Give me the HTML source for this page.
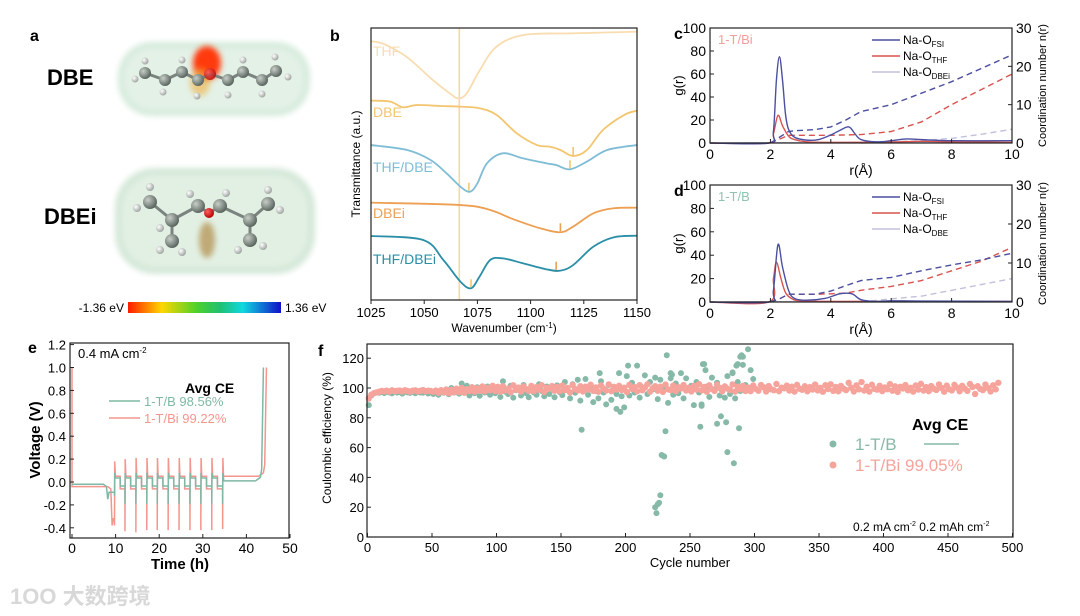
<!DOCTYPE html>
<html><head><meta charset="utf-8">
<style>
html,body{margin:0;padding:0;background:#fff;}
svg{display:block;font-family:"Liberation Sans","Noto Sans CJK SC",sans-serif;}
</style></head>
<body>
<svg id="fig" width="1080" height="616" viewBox="0 0 1080 616" xmlns="http://www.w3.org/2000/svg">
<defs>
<filter id="blur3" x="-30%" y="-30%" width="160%" height="160%"><feGaussianBlur stdDeviation="3"/></filter>
<linearGradient id="cbar" x1="0" x2="1" y1="0" y2="0">
<stop offset="0" stop-color="#ff1a00"/><stop offset="0.22" stop-color="#ffd700"/><stop offset="0.45" stop-color="#4cd12a"/><stop offset="0.6" stop-color="#20c070"/><stop offset="0.75" stop-color="#10d8e0"/><stop offset="1" stop-color="#1010c8"/>
</linearGradient>
<radialGradient id="atom" cx="0.35" cy="0.35" r="0.7"><stop offset="0" stop-color="#c8cec8"/><stop offset="1" stop-color="#55605a"/></radialGradient>
<radialGradient id="hatom" cx="0.35" cy="0.35" r="0.7"><stop offset="0" stop-color="#ffffff"/><stop offset="1" stop-color="#9aa09c"/></radialGradient>
<radialGradient id="oatom" cx="0.35" cy="0.35" r="0.7"><stop offset="0" stop-color="#ff6060"/><stop offset="1" stop-color="#b00000"/></radialGradient>
</defs>

<!-- Panel a -->
<g>
<text x="30" y="41" font-size="16" font-weight="bold">a</text>
<text x="47" y="85" font-size="22" font-weight="bold">DBE</text>
<text x="44" y="224" font-size="22" font-weight="bold">DBEi</text>
<g>
<rect x="118" y="42" width="192" height="74" rx="34" fill="#d6ebdc" filter="url(#blur3)"/>
<rect x="124" y="48" width="180" height="62" rx="28" fill="#e3f1e6" filter="url(#blur3)"/>
<ellipse cx="207" cy="63" rx="14" ry="17" fill="#ff3a10" filter="url(#blur3)"/>
<ellipse cx="200" cy="82" rx="10" ry="14" fill="#f0b040" opacity="0.6" filter="url(#blur3)"/>
<g stroke="#7a837e" stroke-width="3">
<line x1="145" y1="73" x2="165" y2="80"/><line x1="165" y1="80" x2="182" y2="72"/><line x1="182" y1="72" x2="198" y2="80"/><line x1="198" y1="80" x2="210" y2="74"/><line x1="210" y1="74" x2="228" y2="80"/><line x1="228" y1="80" x2="243" y2="72"/><line x1="243" y1="72" x2="262" y2="80"/><line x1="262" y1="80" x2="276" y2="71"/>
</g>
<circle cx="145" cy="73" r="6" fill="url(#atom)"/><circle cx="165" cy="80" r="6" fill="url(#atom)"/><circle cx="182" cy="72" r="6" fill="url(#atom)"/><circle cx="198" cy="80" r="6" fill="url(#atom)"/><circle cx="210" cy="74" r="6" fill="url(#oatom)" opacity="0.8"/><circle cx="228" cy="80" r="6" fill="url(#atom)"/><circle cx="243" cy="72" r="6" fill="url(#atom)"/><circle cx="262" cy="80" r="6" fill="url(#atom)"/><circle cx="276" cy="71" r="6" fill="url(#atom)"/>
<circle cx="135" cy="79" r="3.5" fill="url(#hatom)"/><circle cx="145" cy="61" r="3.5" fill="url(#hatom)"/><circle cx="163" cy="92" r="3.5" fill="url(#hatom)"/><circle cx="182" cy="60" r="3.5" fill="url(#hatom)"/><circle cx="197" cy="96" r="3.5" fill="url(#hatom)"/><circle cx="228" cy="95" r="3.5" fill="url(#hatom)"/><circle cx="243" cy="60" r="3.5" fill="url(#hatom)"/><circle cx="262" cy="94" r="3.5" fill="url(#hatom)"/><circle cx="275" cy="57" r="3.5" fill="url(#hatom)"/><circle cx="288" cy="77" r="3.5" fill="url(#hatom)"/>
</g>
<g>
<rect x="115" y="168" width="200" height="106" rx="40" fill="#d4e8d8" filter="url(#blur3)"/>
<rect x="122" y="175" width="186" height="92" rx="34" fill="#e2f0e4" filter="url(#blur3)"/>
<ellipse cx="207" cy="240" rx="8" ry="18" fill="#a87a2a" opacity="0.6" filter="url(#blur3)"/>
<g stroke="#7a837e" stroke-width="3">
<line x1="150" y1="202" x2="172" y2="220"/><line x1="172" y1="220" x2="198" y2="206"/><line x1="198" y1="206" x2="209" y2="213"/><line x1="209" y1="213" x2="220" y2="206"/><line x1="220" y1="206" x2="250" y2="220"/><line x1="250" y1="220" x2="268" y2="204"/><line x1="172" y1="220" x2="172" y2="240"/><line x1="250" y1="220" x2="250" y2="240"/>
</g>
<circle cx="150" cy="202" r="7" fill="url(#atom)"/><circle cx="172" cy="220" r="7" fill="url(#atom)"/><circle cx="172" cy="241" r="7" fill="url(#atom)"/><circle cx="198" cy="206" r="7" fill="url(#atom)"/><circle cx="209" cy="213" r="5" fill="url(#oatom)"/><circle cx="220" cy="206" r="7" fill="url(#atom)"/><circle cx="250" cy="220" r="7" fill="url(#atom)"/><circle cx="250" cy="240" r="7" fill="url(#atom)"/><circle cx="268" cy="204" r="7" fill="url(#atom)"/>
<circle cx="137" cy="208" r="4" fill="url(#hatom)"/><circle cx="150" cy="187" r="4" fill="url(#hatom)"/><circle cx="160" cy="228" r="4" fill="url(#hatom)"/><circle cx="160" cy="250" r="4" fill="url(#hatom)"/><circle cx="182" cy="252" r="4" fill="url(#hatom)"/><circle cx="190" cy="194" r="4" fill="url(#hatom)"/><circle cx="226" cy="193" r="4" fill="url(#hatom)"/><circle cx="238" cy="250" r="4" fill="url(#hatom)"/><circle cx="263" cy="246" r="4" fill="url(#hatom)"/><circle cx="268" cy="190" r="4" fill="url(#hatom)"/><circle cx="280" cy="210" r="4" fill="url(#hatom)"/>
</g>
<text x="124" y="312" font-size="12" text-anchor="end">-1.36 eV</text>
<rect x="128" y="302" width="153" height="11" fill="url(#cbar)"/>
<text x="285" y="312" font-size="12">1.36 eV</text>
</g>

<g id="pb"></g>
<g id="pc"></g>
<g id="pd"></g>
<g id="pe"></g>
<g id="pf"></g>

<text x="10" y="604" font-size="22" fill="#d8d8d8" font-weight="bold">1OO 大数跨境</text>
</svg>

<script>
// ---------- Panel b data ----------
const bTicks = [1025, 1050, 1075, 1100, 1125, 1150];
const thfW = [1025,1031,1042,1054,1062,1066,1070,1076,1084,1097,1120,1150];
const thfV = [97,96,91,82.5,77.5,75.6,77.5,86,95,99.4,100,100.6];
const dbeW = [1025,1034,1040,1046.5,1057.5,1067,1076,1084,1093.5,1103,1109,1114,1120,1126.5,1134,1144,1150];
const dbeV = [74.75,74.4,72.25,73.1,72.75,72.5,71.9,69.4,62.5,58.1,57.5,56.25,54,56.25,63.75,69.4,71];
const thfDbeW = [1025,1042,1053,1060.5,1067,1071.5,1075,1079.5,1087,1096.5,1107.5,1112,1118.5,1126.5,1136,1150];
const thfDbeV = [58.1,56.25,52.5,47.5,42.5,40.6,43.75,51.25,55,53.1,51.25,50.6,49,51.9,56.25,58.1];
const dbeiW = [1025,1067,1081,1092,1104.5,1114,1120,1129.5,1139,1150];
const dbeiV = [36.5,35.6,33.75,30.25,26.9,25.4,27.5,32.5,34.4,34.6];
const thfDbeiW = [1025,1049.5,1059,1067,1072,1076,1081,1087,1096.5,1107.5,1114,1120,1129.5,1139,1150];
const thfDbeiV = [24,22.5,15,6.9,4.4,8.75,15,15.6,13.75,11.5,11,13.1,20,23.5,24.1];
const refLineW = 1066.5;
const peakMarkW = [1120, 1118.5, 1071, 1114, 1112, 1072];
const peakMarkV = [54, 49, 40.6, 25.4, 11, 4.4];

// ---------- Panel c/d data ----------
const rTicks = [0,2,4,6,8,10];
const cFsiR = [0,1.95,2.1,2.2,2.3,2.4,2.5,2.6,2.8,3.2,3.6,4.0,4.3,4.6,4.8,5.0,5.5,6.0,6.5,7,8,10];
const cFsiG = [0,0,10,55,75,55,25,12,5,2.5,3,7,11,14,8,3,1,2,3.5,3,2,2];
const cThfR = [0,1.95,2.1,2.25,2.4,2.6,2.8,3.2,4,6,7,8,10];
const cThfG = [0,0,8,24,15,6,3,1,0.5,0.8,1.5,1,0.5];
const cDbeiR = [0,2,4,6,8,10];
const cDbeiG = [0,0.3,0.5,0.6,0.6,0.5];
const cnR1 = [2.0,2.3,2.6,2.8,3.5,4.0,4.5,5.0,6,7,8,9,10];
const cFsiN = [0,1.5,3,3.2,3.5,4.2,6,8.2,10,13,16,19.5,23];
const cThfN = [0,1,2,2,2,2,2.1,2.2,3,5.5,10,14,18];
const cnR2 = [5,6,7,8,9,10];
const cDbeiN = [0,0.3,0.6,1.2,2.3,3.6];

const dFsiR = [0,1.95,2.1,2.25,2.4,2.6,2.8,3.2,3.8,4.3,4.7,5.0,5.5,6,7,10];
const dFsiG = [0,0,10,49,30,10,3,1.5,3,7,7,2,0.5,1,0.8,0.5];
const dThfR = [0,1.95,2.1,2.2,2.35,2.5,2.7,3.0,4,10];
const dThfG = [0,0,20,34,20,8,3,1,0.5,0.5];
const dDbeR = [0,2,4,6,8,10];
const dDbeG = [0,0.3,0.5,0.6,0.5,0.5];
const dFsiN = [0,0.8,2,2,2,2.8,4.2,5.5,6.3,8,9.5,10.8,12.5];
const dThfN = [0,0.8,2,2,2,2.1,2.3,3,4,5.5,8,10.5,14];
const dDbeN = [0,0.8,1.5,3,4.5,6];

// ---------- Panel e data ----------
const eXTicks = [0,10,20,30,40,50];
const eYTicks = [-0.4,-0.2,0.0,0.2,0.4,0.6,0.8,1.0,1.2];
const cycleTimes = [9.8,12.2,14.7,17.2,19.6,22.1,24.6,27.1,29.6,32.1,34.6];
const bHighs = [0.08,0.08,0.08,0.08,0.08,0.08,0.08,0.08,0.08,0.08,0.08];
const bLows = [-0.12,-0.19,-0.19,-0.19,-0.19,-0.19,-0.19,-0.19,-0.19,-0.19,-0.19];
const biHighs = [0.18,0.2,0.21,0.21,0.21,0.21,0.21,0.21,0.21,0.21,0.21];
const biLows = [-0.38,-0.43,-0.44,-0.42,-0.42,-0.42,-0.42,-0.42,-0.42,-0.42,-0.41];

// ---------- Panel f data ----------
const fXTicks = [0,50,100,150,200,250,300,350,400,450,500];
const fYTicks = [0,20,40,60,80,100,120];
const biCE = [93,95.5,96.5,97,97.5,98,97.8,98.2,97.6,98.4,97.9,98.1,98.3,97.7,98.5,98,97.6,98.2,98.4,97.8,98.1,98.6,97.9,98.2,98,
97.5,98.3,96.8,98.5,97.2,99,96.5,98.8,97,99.5,97.3,100,96.8,99.2,98,100.5,97.5,99.8,98.2,101,97.8,100.2,98.5,101.5,98,
100.8,97.5,101.2,98.4,99.6,97.2,101.8,98.9,100.3,97.6,101,99.2,98.1,101.4,97.9,100.6,98.8,101.9,97.4,100.1,99.5,101.3,98.2,100.7,97.8,
101.6,98.6,100,97.1,102,99.3,98.4,101.2,97.7,100.9,99,102.2,98.1,100.4,97.5,101.7,99.6,98.3,102.4,97.9,100.8,99.1,101.5,98.7,100.2,
97.3,102.1,99.4,100.6,97.8,101.9,98.5,100.3,102.5,97.6,99.8,101.2,98.2,100.9,97.4,102.3,99.1,98.6,101.6,97.9,100.5,99.7,102,98.3,100.1,
97.7,101.4,99,102.6,98.4,100.7,97.5,101.8,99.3,98.1,102.2,100,97.8,101.1,99.6,98.7,102.4,97.6,100.8,99.2,101.5,98,100.3,97.9,101.7,
99.4,98.2,102,100.5,97.7,101.3,99.1,98.5,102.7,97.9,100.2,99.8,101.6,98.3,100.9,97.6,102.1,99.5,98.8,101.2,97.8,100.6,99,102.3,98.4,
100.1,97.5,101.9,99.3,102.5,98.1,100.7,97.8,101.4,99.6,98.6,103.5,100.2,97.7,101.8,99.1,104,98.3,100.9,97.6,102.2,99.4,98.9,101.5,97.9,
100.4,99.2,102.6,98.2,101.1,97.4,100.8,99.7,102,98.5,100.1,97.6,101.7,99,102.8,98.3,100.6,97.9,101.3,99.5,98.7,102.4,100,97.5,101.6,
99.2,98.4,102.1,100.3,97.8,101.5,99.6,98.1,102.7,100.7,96,101.2,99.4,98.6,102.3,100,97.7,101.8,99.1,103.5];
const bCE = [88.5,95,96.5,97,96.8,97.2,96.6,97.5,97,96.4,97.8,96.9,97.3,96.2,97.6,97.1,96.7,98,96.5,97.4,97,96.8,97.7,96.3,97.2,
96,97.5,95.5,98.5,96.8,97.2,95.8,100,97.5,99.5,96.2,103,98.5,101.5,95,98,96.5,100.5,94.8,99,97,101,95.5,98.5,96.5,
100,94,104.5,97.5,96,101.5,93.5,98.5,99.8,95,102,96.5,93.8,100.5,97,95.5,102.5,98,94.5,101,96,99.5,93.8,101.8,97.2,
95.2,104,98.5,93,102.5,96.8,105.5,91.5,99,106,95.5,101,90.5,98,93,104.5,97,89,102,92,100.5,96,110,94.5,87,
108,95,103.5,97,115,93.5,100.5,108.5,96,104,99,107,92.5,105.5,98,101,90,106.5,95.5,103,96.5,110,93,106.5,99.5,
101.5,88.5,104,97,89,116,101,94,107,99,103.5,95,100,93.5,108,96,110.5,93,104,98,115.5,102,126,112,106];
const bOutCycle = [166,223,224,225,226,227,228,229,230,231,232,235,236,258,259,260,262,271,274,278,279,283,284,286,287,288,289,290,291,193,196,202,180];
const bOutCE = [72,20,16,22,23,28,55,54.5,54,71,122,110,109,74,88,116,112,76,81,77,57,110,49.5,115,116,73,121,122,121,86,84,115,110];

// ---------- helpers ----------
const NS = 'http://www.w3.org/2000/svg';
function el(tag, parent, attrs) {
  const e = document.createElementNS(NS, tag);
  for (const k in attrs) e.setAttribute(k, attrs[k]);
  parent.appendChild(e);
  return e;
}
function smooth(pts) {
  let d = 'M' + pts[0][0].toFixed(2) + ',' + pts[0][1].toFixed(2);
  for (let i = 0; i < pts.length - 1; i++) {
    const p0 = pts[Math.max(0, i - 1)], p1 = pts[i], p2 = pts[i + 1], p3 = pts[Math.min(pts.length - 1, i + 2)];
    const c1 = [p1[0] + (p2[0] - p0[0]) / 6, p1[1] + (p2[1] - p0[1]) / 6];
    const c2 = [p2[0] - (p3[0] - p1[0]) / 6, p2[1] - (p3[1] - p1[1]) / 6];
    d += 'C' + c1[0].toFixed(2) + ',' + c1[1].toFixed(2) + ' ' + c2[0].toFixed(2) + ',' + c2[1].toFixed(2) + ' ' + p2[0].toFixed(2) + ',' + p2[1].toFixed(2);
  }
  return d;
}
function poly(pts) {
  return 'M' + pts.map(p => p[0].toFixed(2) + ',' + p[1].toFixed(2)).join('L');
}
function txt(parent, x, y, s, attrs) {
  const t = el('text', parent, Object.assign({x: x, y: y, 'font-size': 13}, attrs || {}));
  t.textContent = s;
  return t;
}

// ---------- Panel b ----------
(function () {
  const g = document.getElementById('pb');
  const xb = w => 371 + (w - 1025) / 125 * 266;
  const yb = v => 300 - v * 2.667;
  let t = txt(g, 330, 41, 'b', {'font-size': 16, 'font-weight': 'bold'});
  
  
  const ref = el('line', g, {x1: xb(refLineW), x2: xb(refLineW), y1: 28, y2: 300, stroke: '#f7d9a0', 'stroke-width': 1.6});
  
  
  const series = [
    [thfW, thfV, '#f9ddb0', 'thf-curve'],
    [dbeW, dbeV, '#f3c56f', 'dbe-curve'],
    [thfDbeW, thfDbeV, '#7fbdd6', 'thf-dbe-curve'],
    [dbeiW, dbeiV, '#ed9f52', 'dbei-curve'],
    [thfDbeiW, thfDbeiV, '#2a8ea7', 'thf-dbei-curve']
  ];
  series.forEach(s => {
    const p = el('path', g, {d: smooth(s[0].map((w, i) => [xb(w), yb(s[1][i])])), fill: 'none', stroke: s[2], 'stroke-width': 1.8});
    
    
  });
  const markCols = ['#f3c56f', '#f3c56f', '#f3c56f', '#ed9f52', '#ed9f52', '#f3c56f'];
  peakMarkW.forEach((w, i) => {
    const m = el('line', g, {x1: xb(w), x2: xb(w), y1: yb(peakMarkV[i]) - 1, y2: yb(peakMarkV[i]) - 9, stroke: markCols[i], 'stroke-width': 1.6});
    
    
  });
  const labels = [['THF', 56, '#f9ddb0'], ['DBE', 117, '#f3c56f'], ['THF/DBE', 172, '#7fbdd6'], ['DBEi', 218, '#ed9f52'], ['THF/DBEi', 264, '#2a8ea7']];
  labels.forEach(l => {
    const tt = txt(g, 373, l[1], l[0], {'font-size': 14, fill: l[2]});
    
    
  });
  const box = el('rect', g, {x: 371, y: 28, width: 266, height: 272, fill: 'none', stroke: '#222', 'stroke-width': 1.2});
  
  
  bTicks.forEach(w => {
    el('line', g, {x1: xb(w), x2: xb(w), y1: 300, y2: 304, stroke: '#222'});
    const tl = txt(g, xb(w), 317, String(w), {'text-anchor': 'middle'});
    
    
  });
  const xt = txt(g, 504, 332, 'Wavenumber (cm', {'text-anchor': 'middle', 'font-size': 12});
  const sup = el('tspan', xt, {'baseline-shift': 'super', 'font-size': 8});
  sup.textContent = '-1';
  const cl = el('tspan', xt, {}); cl.textContent = ')';
  
  
  const yt = txt(g, 0, 0, 'Transmittance (a.u.)', {'text-anchor': 'middle', 'font-size': 12, transform: 'translate(360,164) rotate(-90)'});
  
  
})();

// ---------- Panels c & d ----------
function rdfPanel(gid, top, bottom, letter, sample, sampleCol, data, legendNames) {
  const g = document.getElementById(gid);
  const xc = r => 710 + r * 30.2;
  const yL = v => bottom - v / 100 * (bottom - top);
  const yR = v => bottom - v / 30 * (bottom - top);
  const lt = txt(g, 674, top + 11, letter, {'font-size': 16, 'font-weight': 'bold'});
  
  
  data.forEach(s => {
    const pts = s.x.map((r, i) => [xc(r), s.right ? yR(s.y[i]) : yL(s.y[i])]);
    const p = el('path', g, {d: s.right ? poly(pts) : smooth(pts), fill: 'none', stroke: s.col, 'stroke-width': 1.4, 'stroke-dasharray': s.right ? '6,4' : 'none'});
    
    
  });
  const box = el('rect', g, {x: 710, y: top, width: 302, height: bottom - top, fill: 'none', stroke: '#222', 'stroke-width': 1.2});
  
  
  rTicks.forEach(r => {
    el('line', g, {x1: xc(r), x2: xc(r), y1: bottom, y2: bottom - 4, stroke: '#222'});
    const tl = txt(g, xc(r), bottom + 16, String(r), {'text-anchor': 'middle', 'font-size': 14});
    
    
  });
  [0, 20, 40, 60, 80, 100].forEach(v => {
    el('line', g, {x1: 710, x2: 714, y1: yL(v), y2: yL(v), stroke: '#222'});
    const tl = txt(g, 706, yL(v) + 5, String(v), {'text-anchor': 'end', 'font-size': 14});
    
    
  });
  [0, 10, 20, 30].forEach(v => {
    el('line', g, {x1: 1012, x2: 1008, y1: yR(v), y2: yR(v), stroke: '#222'});
    const tl = txt(g, 1016, yR(v) + 5, String(v), {'font-size': 14});
    
    
  });
  const xt = txt(g, 861, bottom + 32, 'r(Å)', {'text-anchor': 'middle', 'font-size': 14});
  
  
  const yt = txt(g, 0, 0, 'g(r)', {'text-anchor': 'middle', 'font-size': 13, transform: 'translate(683,' + ((top + bottom) / 2) + ') rotate(-90)'});
  
  
  const y2 = txt(g, 0, 0, 'Coordination number n(r)', {'text-anchor': 'middle', 'font-size': 11, transform: 'translate(1046,' + ((top + bottom) / 2) + ') rotate(-90)'});
  
  
  const st = txt(g, 718, top + 16, sample, {'font-size': 13, fill: sampleCol});
  
  
  const cols = ['#4b4fa0', '#d9534f', '#c2c1dc'];
  legendNames.forEach((n, i) => {
    const ly = top + 12 + i * 16;
    const ln = el('line', g, {x1: 872, x2: 900, y1: ly, y2: ly, stroke: cols[i], 'stroke-width': 1.5});
    
    
    const tt = txt(g, 903, ly + 4, 'Na-O', {'font-size': 12});
    const sb = el('tspan', tt, {'font-size': 8, dy: 3});
    sb.textContent = n;
    
    
  });
}
rdfPanel('pc', 28, 143, 'c', '1-T/Bi', '#f4a09a', [
  {x: cDbeiR, y: cDbeiG, col: '#c2c1dc', name: 'na-o-dbei-rdf'},
  {x: cnR2, y: cDbeiN, col: '#c2c1dc', right: true, name: 'na-o-dbei-cn'},
  {x: cnR1, y: cThfN, col: '#d9534f', right: true, name: 'na-o-thf-cn'},
  {x: cnR1, y: cFsiN, col: '#4b4fa0', right: true, name: 'na-o-fsi-cn'},
  {x: cThfR, y: cThfG, col: '#d9534f', name: 'na-o-thf-rdf'},
  {x: cFsiR, y: cFsiG, col: '#4b4fa0', name: 'na-o-fsi-rdf'}
], ['FSI', 'THF', 'DBEi']);
rdfPanel('pd', 185, 302, 'd', '1-T/B', '#8fc4b0', [
  {x: dDbeR, y: dDbeG, col: '#c2c1dc', name: 'na-o-dbe-rdf'},
  {x: cnR2, y: dDbeN, col: '#c2c1dc', right: true, name: 'na-o-dbe-cn'},
  {x: cnR1, y: dThfN, col: '#d9534f', right: true, name: 'na-o-thf-cn'},
  {x: cnR1, y: dFsiN, col: '#4b4fa0', right: true, name: 'na-o-fsi-cn'},
  {x: dThfR, y: dThfG, col: '#d9534f', name: 'na-o-thf-rdf'},
  {x: dFsiR, y: dFsiG, col: '#4b4fa0', name: 'na-o-fsi-rdf'}
], ['FSI', 'THF', 'DBE']);

// ---------- Panel e ----------
(function () {
  const g = document.getElementById('pe');
  const xe = t => 72 + t * 4.36;
  const ye = v => 482 - v * 114.5;
  const lt = txt(g, 28, 353, 'e', {'font-size': 16, 'font-weight': 'bold'});
  
  
  function profile(base, dipT, dipV, highs, lows, plHi, plLo, endV, endT, finalT, startVert) {
    const pts = [];
    if (startVert) pts.push([0, 1.0]);
    pts.push([0, base], [dipT - 1, base], [dipT - 0.3, base - 0.02], [dipT, dipV], [dipT + 0.3, dipV + 0.06]);
    cycleTimes.forEach((t, k) => {
      pts.push([t - 0.05, k === 0 ? dipV + 0.06 : plLo], [t - 0.05, lows[k]], [t, highs[k]], [t + 0.15, plHi]);
      if (k < cycleTimes.length - 1) pts.push([t + 1.25, plHi], [t + 1.25, plLo]);
    });
    const last = cycleTimes[cycleTimes.length - 1];
    pts.push([last + 0.2, endV], [endT - 1.5, endV], [endT - 0.4, endV + 0.03], [endT - 0.1, endV + 0.1], [finalT, 1.0]);
    return pts;
  }
  const bPts = profile(-0.02, 8.2, -0.15, bHighs, bLows, 0.035, -0.035, 0.01, 43.6, 43.9, false);
  const biPts = profile(-0.04, 9.2, -0.38, biHighs, biLows, 0.05, -0.06, 0.05, 44.3, 44.6, true);
  const p2 = el('path', g, {d: poly(biPts.map(p => [xe(p[0]), ye(p[1])])), fill: 'none', stroke: '#f4958e', 'stroke-width': 1.5});
  
  
  const p1 = el('path', g, {d: poly(bPts.map(p => [xe(p[0]), ye(p[1])])), fill: 'none', stroke: '#7fb8a4', 'stroke-width': 1.5});
  
  
  const box = el('rect', g, {x: 70, y: 343, width: 219, height: 195, fill: 'none', stroke: '#222', 'stroke-width': 1.2});
  
  
  eXTicks.forEach(t => {
    el('line', g, {x1: xe(t), x2: xe(t), y1: 538, y2: 534, stroke: '#222'});
    const tl = txt(g, xe(t), 553, String(t), {'text-anchor': 'middle', 'font-size': 14});
    
    
  });
  eYTicks.forEach(v => {
    el('line', g, {x1: 70, x2: 74, y1: ye(v), y2: ye(v), stroke: '#222'});
    const tl = txt(g, 66, ye(v) + 5, v.toFixed(1), {'text-anchor': 'end', 'font-size': 13});
    
    
  });
  const xt = txt(g, 180, 569, 'Time (h)', {'text-anchor': 'middle', 'font-size': 15, 'font-weight': 'bold'});
  
  
  const yt = txt(g, 0, 0, 'Voltage (V)', {'text-anchor': 'middle', 'font-size': 15, 'font-weight': 'bold', transform: 'translate(40,440) rotate(-90)'});
  
  
  const cur = txt(g, 78, 358, '0.4 mA cm', {'font-size': 13});
  const sp = el('tspan', cur, {'font-size': 8, dy: -5}); sp.textContent = '-2';
  
  
  const ac = txt(g, 185, 393, 'Avg CE', {'font-size': 14, 'font-weight': 'bold'});
  
  
  const l1 = el('line', g, {x1: 109, x2: 140, y1: 401, y2: 401, stroke: '#7fb8a4', 'stroke-width': 1.6});
  
  
  const t1 = txt(g, 144, 406, '1-T/B  98.56%', {'font-size': 13, fill: '#7fb8a4', 'xml:space': 'preserve'});
  
  
  const l2 = el('line', g, {x1: 109, x2: 140, y1: 418, y2: 418, stroke: '#f4958e', 'stroke-width': 1.6});
  
  
  const t2 = txt(g, 144, 423, '1-T/Bi 99.22%', {'font-size': 13, fill: '#f4958e'});
  
  
})();

// ---------- Panel f ----------
(function () {
  const g = document.getElementById('pf');
  const xf = c => 367.5 + c * 1.29;
  const yf = v => 537 - v * 1.49;
  const lt = txt(g, 318, 356, 'f', {'font-size': 16, 'font-weight': 'bold'});
  
  
  const gb = el('g', g, {fill: '#86b9a7'});
  
  
  bCE.forEach((v, i) => {
    const c = el('circle', gb, {cx: xf(1 + i * 2), cy: yf(v), r: 3});
    
    
  });
  const gr = el('g', g, {fill: '#f6a39c'});
  
  
  biCE.forEach((v, i) => {
    const c = el('circle', gr, {cx: xf(1 + i * 2), cy: yf(v), r: 3.2});
    
    
  });
  bOutCycle.forEach((cy, i) => {
    const c = el('circle', gb, {cx: xf(cy), cy: yf(bOutCE[i]), r: 3});
    
    
  });
  const box = el('rect', g, {x: 367, y: 344, width: 646, height: 193, fill: 'none', stroke: '#222', 'stroke-width': 1.2});
  
  
  fXTicks.forEach(c => {
    el('line', g, {x1: xf(c), x2: xf(c), y1: 537, y2: 533, stroke: '#222'});
    const tl = txt(g, xf(c), 552, String(c), {'text-anchor': 'middle', 'font-size': 13});
    
    
  });
  fYTicks.forEach(v => {
    el('line', g, {x1: 367, x2: 371, y1: yf(v), y2: yf(v), stroke: '#222'});
    const tl = txt(g, 364, yf(v) + 5, String(v), {'text-anchor': 'end', 'font-size': 13});
    
    
  });
  const xt = txt(g, 690, 567, 'Cycle number', {'text-anchor': 'middle', 'font-size': 13});
  
  
  const yt = txt(g, 0, 0, 'Coulombic efficiency (%)', {'text-anchor': 'middle', 'font-size': 12, transform: 'translate(331,438) rotate(-90)'});
  
  
  const ac = txt(g, 912, 430, 'Avg CE', {'font-size': 16, 'font-weight': 'bold'});
  
  
  const d1 = el('circle', g, {cx: 833, cy: 444, r: 3.5, fill: '#86b9a7'});
  
  
  const t1 = txt(g, 855, 450, '1-T/B', {'font-size': 17, fill: '#86b9a7'});
  
  
  const ln = el('line', g, {x1: 924, x2: 959, y1: 444, y2: 444, stroke: '#86b9a7', 'stroke-width': 1.6});
  
  
  const d2 = el('circle', g, {cx: 833, cy: 465, r: 3.5, fill: '#f6a39c'});
  
  
  const t2 = txt(g, 855, 471, '1-T/Bi  99.05%', {'font-size': 17, fill: '#f6a39c', 'xml:space': 'preserve'});
  
  
  const cond = txt(g, 853, 531, '0.2 mA cm', {'font-size': 12});
  const s1 = el('tspan', cond, {'font-size': 7, dy: -5}); s1.textContent = '-2';
  const s2 = el('tspan', cond, {dy: 5}); s2.textContent = ' 0.2 mAh cm';
  const s3 = el('tspan', cond, {'font-size': 7, dy: -5}); s3.textContent = '-2';
  
  
})();
</script>
</body></html>
